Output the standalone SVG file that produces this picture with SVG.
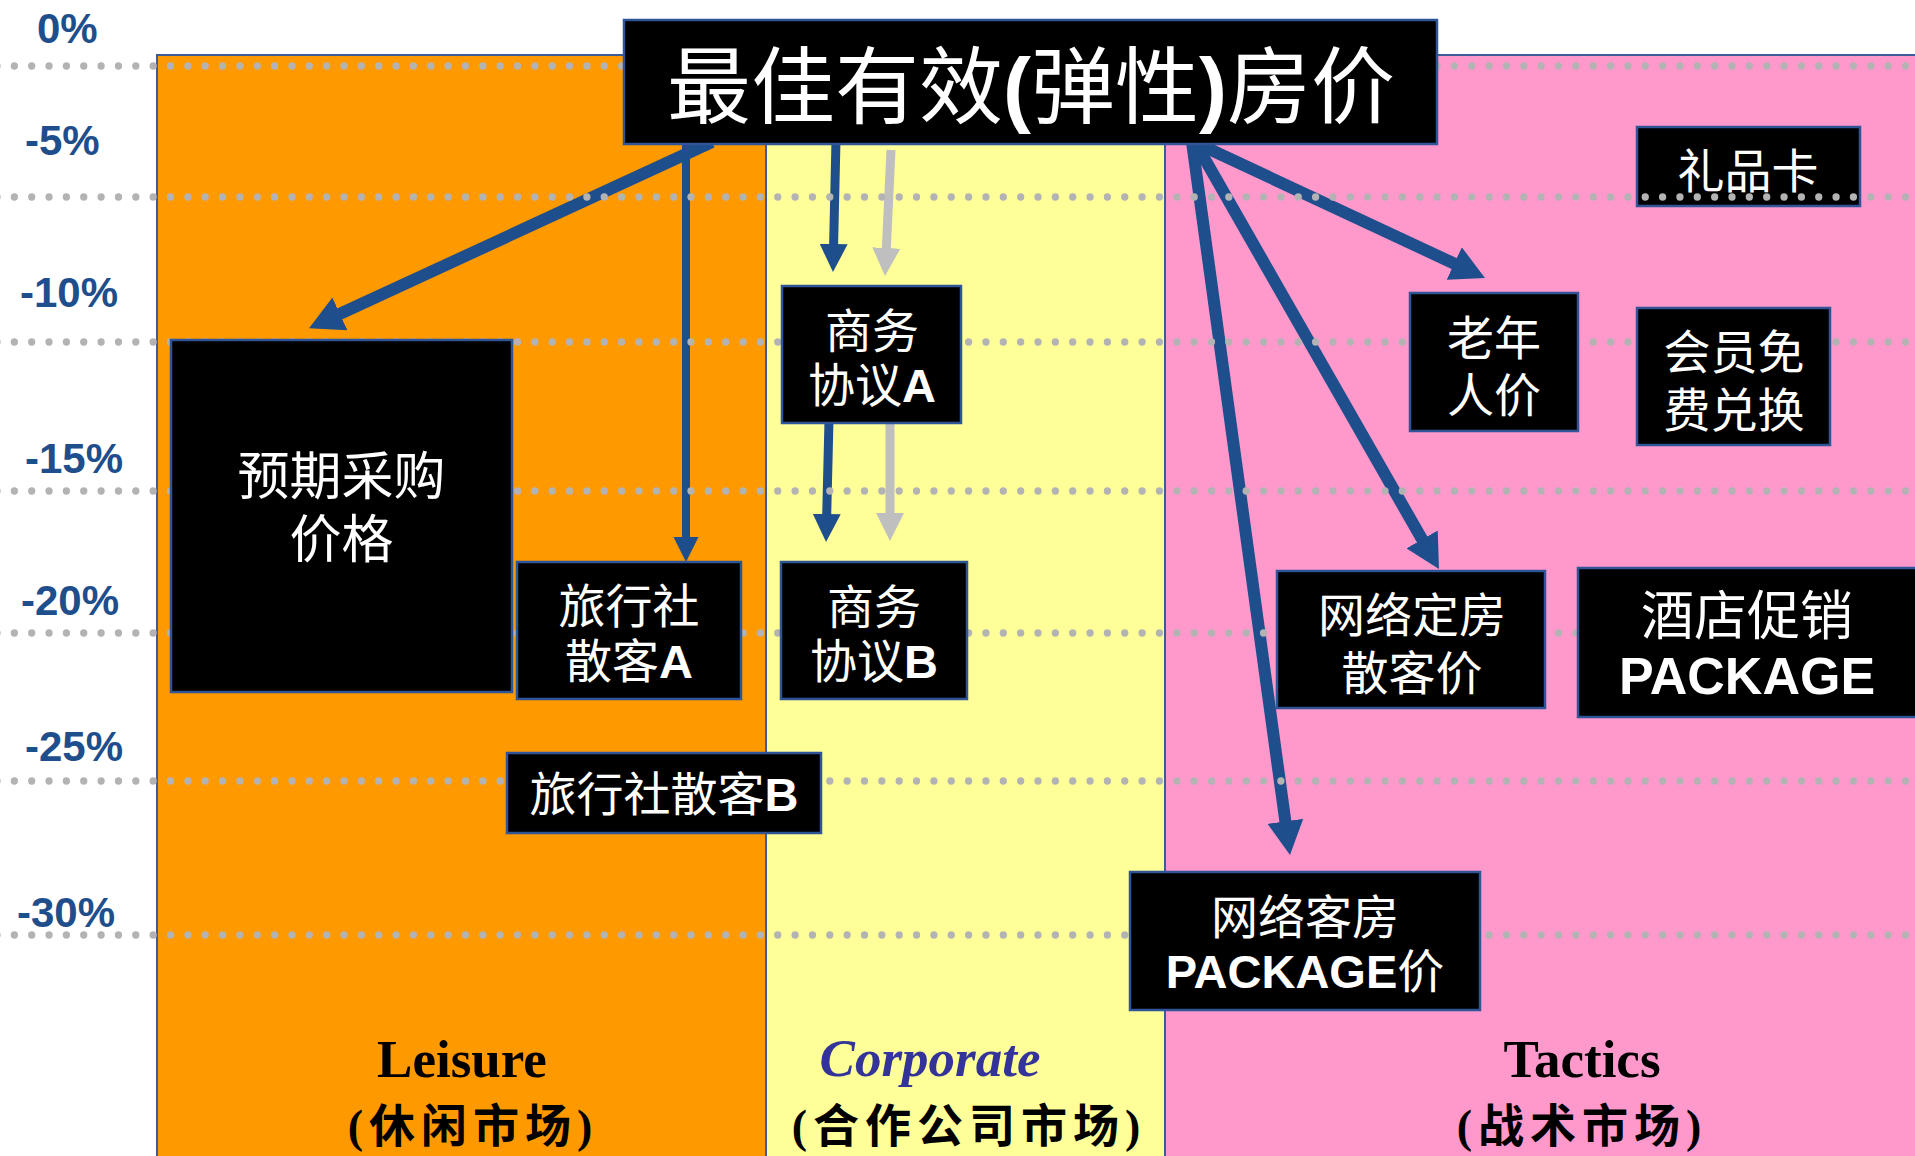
<svg xmlns="http://www.w3.org/2000/svg" width="1915" height="1156" viewBox="0 0 1915 1156">
<style>
.col{stroke:#3A5D96;stroke-width:2}
.box{fill:#000;stroke:#2F5597;stroke-width:2.5}
.bt{fill:#fff;font-family:"Liberation Sans","Noto Sans CJK SC",sans-serif;font-size:47px;text-anchor:middle}
.b{font-weight:bold}
.ax{fill:#1F4E8C;font-family:"Liberation Sans",sans-serif;font-weight:bold;font-size:42px}
.dots{stroke:#B3B3B3;stroke-width:7.3;stroke-linecap:round;stroke-dasharray:0 17.35;fill:none}
.ar{stroke:#1F4E8C;fill:none}
.ag{stroke:#BFBFBF;fill:none}
.lab{font-family:"Liberation Serif",serif;font-weight:bold;font-size:53px;text-anchor:middle}
.sub{font-family:"Liberation Serif","Noto Sans CJK SC",serif;font-weight:bold;font-size:46px;letter-spacing:6px;text-anchor:middle;fill:#000}
</style>
<defs>
<marker id="hBig" markerUnits="userSpaceOnUse" markerWidth="36" markerHeight="36" viewBox="0 0 36 36" refX="1" refY="18" orient="auto"><path d="M0,0 L34,18 L0,36 z" fill="#1F4E8C"/></marker>
<marker id="hMid" markerUnits="userSpaceOnUse" markerWidth="30" markerHeight="28" viewBox="0 0 30 28" refX="1" refY="14" orient="auto"><path d="M0,0 L28,14 L0,28 z" fill="#1F4E8C"/></marker>
<marker id="hSm" markerUnits="userSpaceOnUse" markerWidth="26" markerHeight="26" viewBox="0 0 26 26" refX="1" refY="12.5" orient="auto"><path d="M0,0 L25,12.5 L0,25 z" fill="#1F4E8C"/></marker>
<marker id="hGray" markerUnits="userSpaceOnUse" markerWidth="30" markerHeight="28" viewBox="0 0 30 28" refX="1" refY="14" orient="auto"><path d="M0,0 L28,14 L0,28 z" fill="#BFBFBF"/></marker>
</defs>
<rect width="1915" height="1156" fill="#fff"/>
<g id="columns">
<rect class="col" x="157" y="55" width="609" height="1120" fill="#FF9900"/>
<rect class="col" x="766" y="55" width="399" height="1120" fill="#FFFF99"/>
<rect class="col" x="1165" y="55" width="770" height="1120" fill="#FF99CC"/>
</g>
<g id="axis">
<text class="ax" x="37" y="43">0%</text>
<text class="ax" x="25" y="155">-5%</text>
<text class="ax" x="20" y="307">-10%</text>
<text class="ax" x="25" y="473">-15%</text>
<text class="ax" x="21" y="615">-20%</text>
<text class="ax" x="25" y="761">-25%</text>
<text class="ax" x="17" y="927">-30%</text>
</g>
<g id="connectors">
<line class="ar" stroke-width="12" x1="712" y1="142" x2="339" y2="314.3" marker-end="url(#hBig)"/>
<line class="ar" stroke-width="8" x1="686" y1="142" x2="686" y2="538" marker-end="url(#hSm)"/>
<line class="ar" stroke-width="9" x1="836" y1="140" x2="833.6" y2="245" marker-end="url(#hMid)"/>
<line class="ag" stroke-width="9" x1="891" y1="150" x2="886.3" y2="249" marker-end="url(#hGray)"/>
<line class="ar" stroke-width="9" x1="829" y1="420" x2="826.7" y2="515" marker-end="url(#hMid)"/>
<line class="ag" stroke-width="9" x1="890" y1="423" x2="890" y2="514" marker-end="url(#hGray)"/>
<line class="ar" stroke-width="12" x1="1194" y1="142" x2="1455.1" y2="264" marker-end="url(#hBig)"/>
<line class="ar" stroke-width="12" x1="1195" y1="142" x2="1422.6" y2="540.3" marker-end="url(#hBig)"/>
<line class="ar" stroke-width="12" x1="1192" y1="142" x2="1285.5" y2="822.3" marker-end="url(#hBig)"/>
</g>
<g id="n-gift">
<rect class="box" x="1637" y="127" width="223" height="79"/>
<text class="bt" x="1748" y="188">礼品卡</text>
</g>
<g id="gridlines">
<line class="dots" x1="-3" y1="66" x2="1920" y2="66"/>
<line class="dots" x1="-3" y1="197" x2="1920" y2="197"/>
<line class="dots" x1="-3" y1="342" x2="1920" y2="342"/>
<line class="dots" x1="-3" y1="491" x2="1920" y2="491"/>
<line class="dots" x1="-3" y1="633" x2="1920" y2="633"/>
<line class="dots" x1="-3" y1="781" x2="1920" y2="781"/>
<line class="dots" x1="-3" y1="935" x2="1920" y2="935"/>
</g>
<g id="n-title">
<rect class="box" x="624" y="20" width="813" height="124"/>
<text class="bt" x="1031" y="117" style="font-size:84px">最佳有效<tspan class="b">(</tspan>弹性<tspan class="b">)</tspan>房价</text>
</g>
<g id="n-expect">
<rect class="box" x="171" y="340" width="341" height="352"/>
<text class="bt" x="341.5" y="495" style="font-size:52px">预期采购</text>
<text class="bt" x="341.5" y="558" style="font-size:52px">价格</text>
</g>
<g id="n-travelA">
<rect class="box" x="517" y="562" width="224" height="137"/>
<text class="bt" x="629" y="623">旅行社</text>
<text class="bt" x="629" y="678">散客<tspan class="b">A</tspan></text>
</g>
<g id="n-travelB">
<rect class="box" x="507" y="753" width="314" height="80"/>
<text class="bt" x="664" y="811">旅行社散客<tspan class="b">B</tspan></text>
</g>
<g id="n-bizA">
<rect class="box" x="782" y="286" width="179" height="137"/>
<text class="bt" x="872" y="348">商务</text>
<text class="bt" x="872" y="402">协议<tspan class="b">A</tspan></text>
</g>
<g id="n-bizB">
<rect class="box" x="781" y="562" width="186" height="137"/>
<text class="bt" x="874" y="624">商务</text>
<text class="bt" x="874" y="678">协议<tspan class="b">B</tspan></text>
</g>
<g id="n-senior">
<rect class="box" x="1410" y="293" width="168" height="138"/>
<text class="bt" x="1494" y="355">老年</text>
<text class="bt" x="1494" y="412">人价</text>
</g>
<g id="n-member">
<rect class="box" x="1637" y="308" width="193" height="137"/>
<text class="bt" x="1734" y="369">会员免</text>
<text class="bt" x="1734" y="427">费兑换</text>
</g>
<g id="n-online">
<rect class="box" x="1277" y="571" width="268" height="137"/>
<text class="bt" x="1412" y="632">网络定房</text>
<text class="bt" x="1412" y="690">散客价</text>
</g>
<g id="n-promo">
<rect class="box" x="1578" y="568" width="345" height="149"/>
<text class="bt" x="1747" y="635" style="font-size:53px">酒店促销</text>
<text class="bt b" x="1747" y="694" style="font-size:52px">PACKAGE</text>
</g>
<g id="n-package">
<rect class="box" x="1130" y="872" width="350" height="138"/>
<text class="bt" x="1305" y="934">网络客房</text>
<text class="bt" x="1305" y="988"><tspan class="b">PACKAGE</tspan>价</text>
</g>
<g id="labels">
<text class="lab" x="462" y="1077" fill="#000">Leisure</text>
<text class="sub" x="473" y="1142">(休闲市场)</text>
<text class="lab" x="930" y="1076" fill="#333399" font-style="italic">Corporate</text>
<text class="sub" x="969" y="1142">(合作公司市场)</text>
<text class="lab" x="1582" y="1077" fill="#000">Tactics</text>
<text class="sub" x="1582" y="1142">(战术市场)</text>
</g>
</svg>
